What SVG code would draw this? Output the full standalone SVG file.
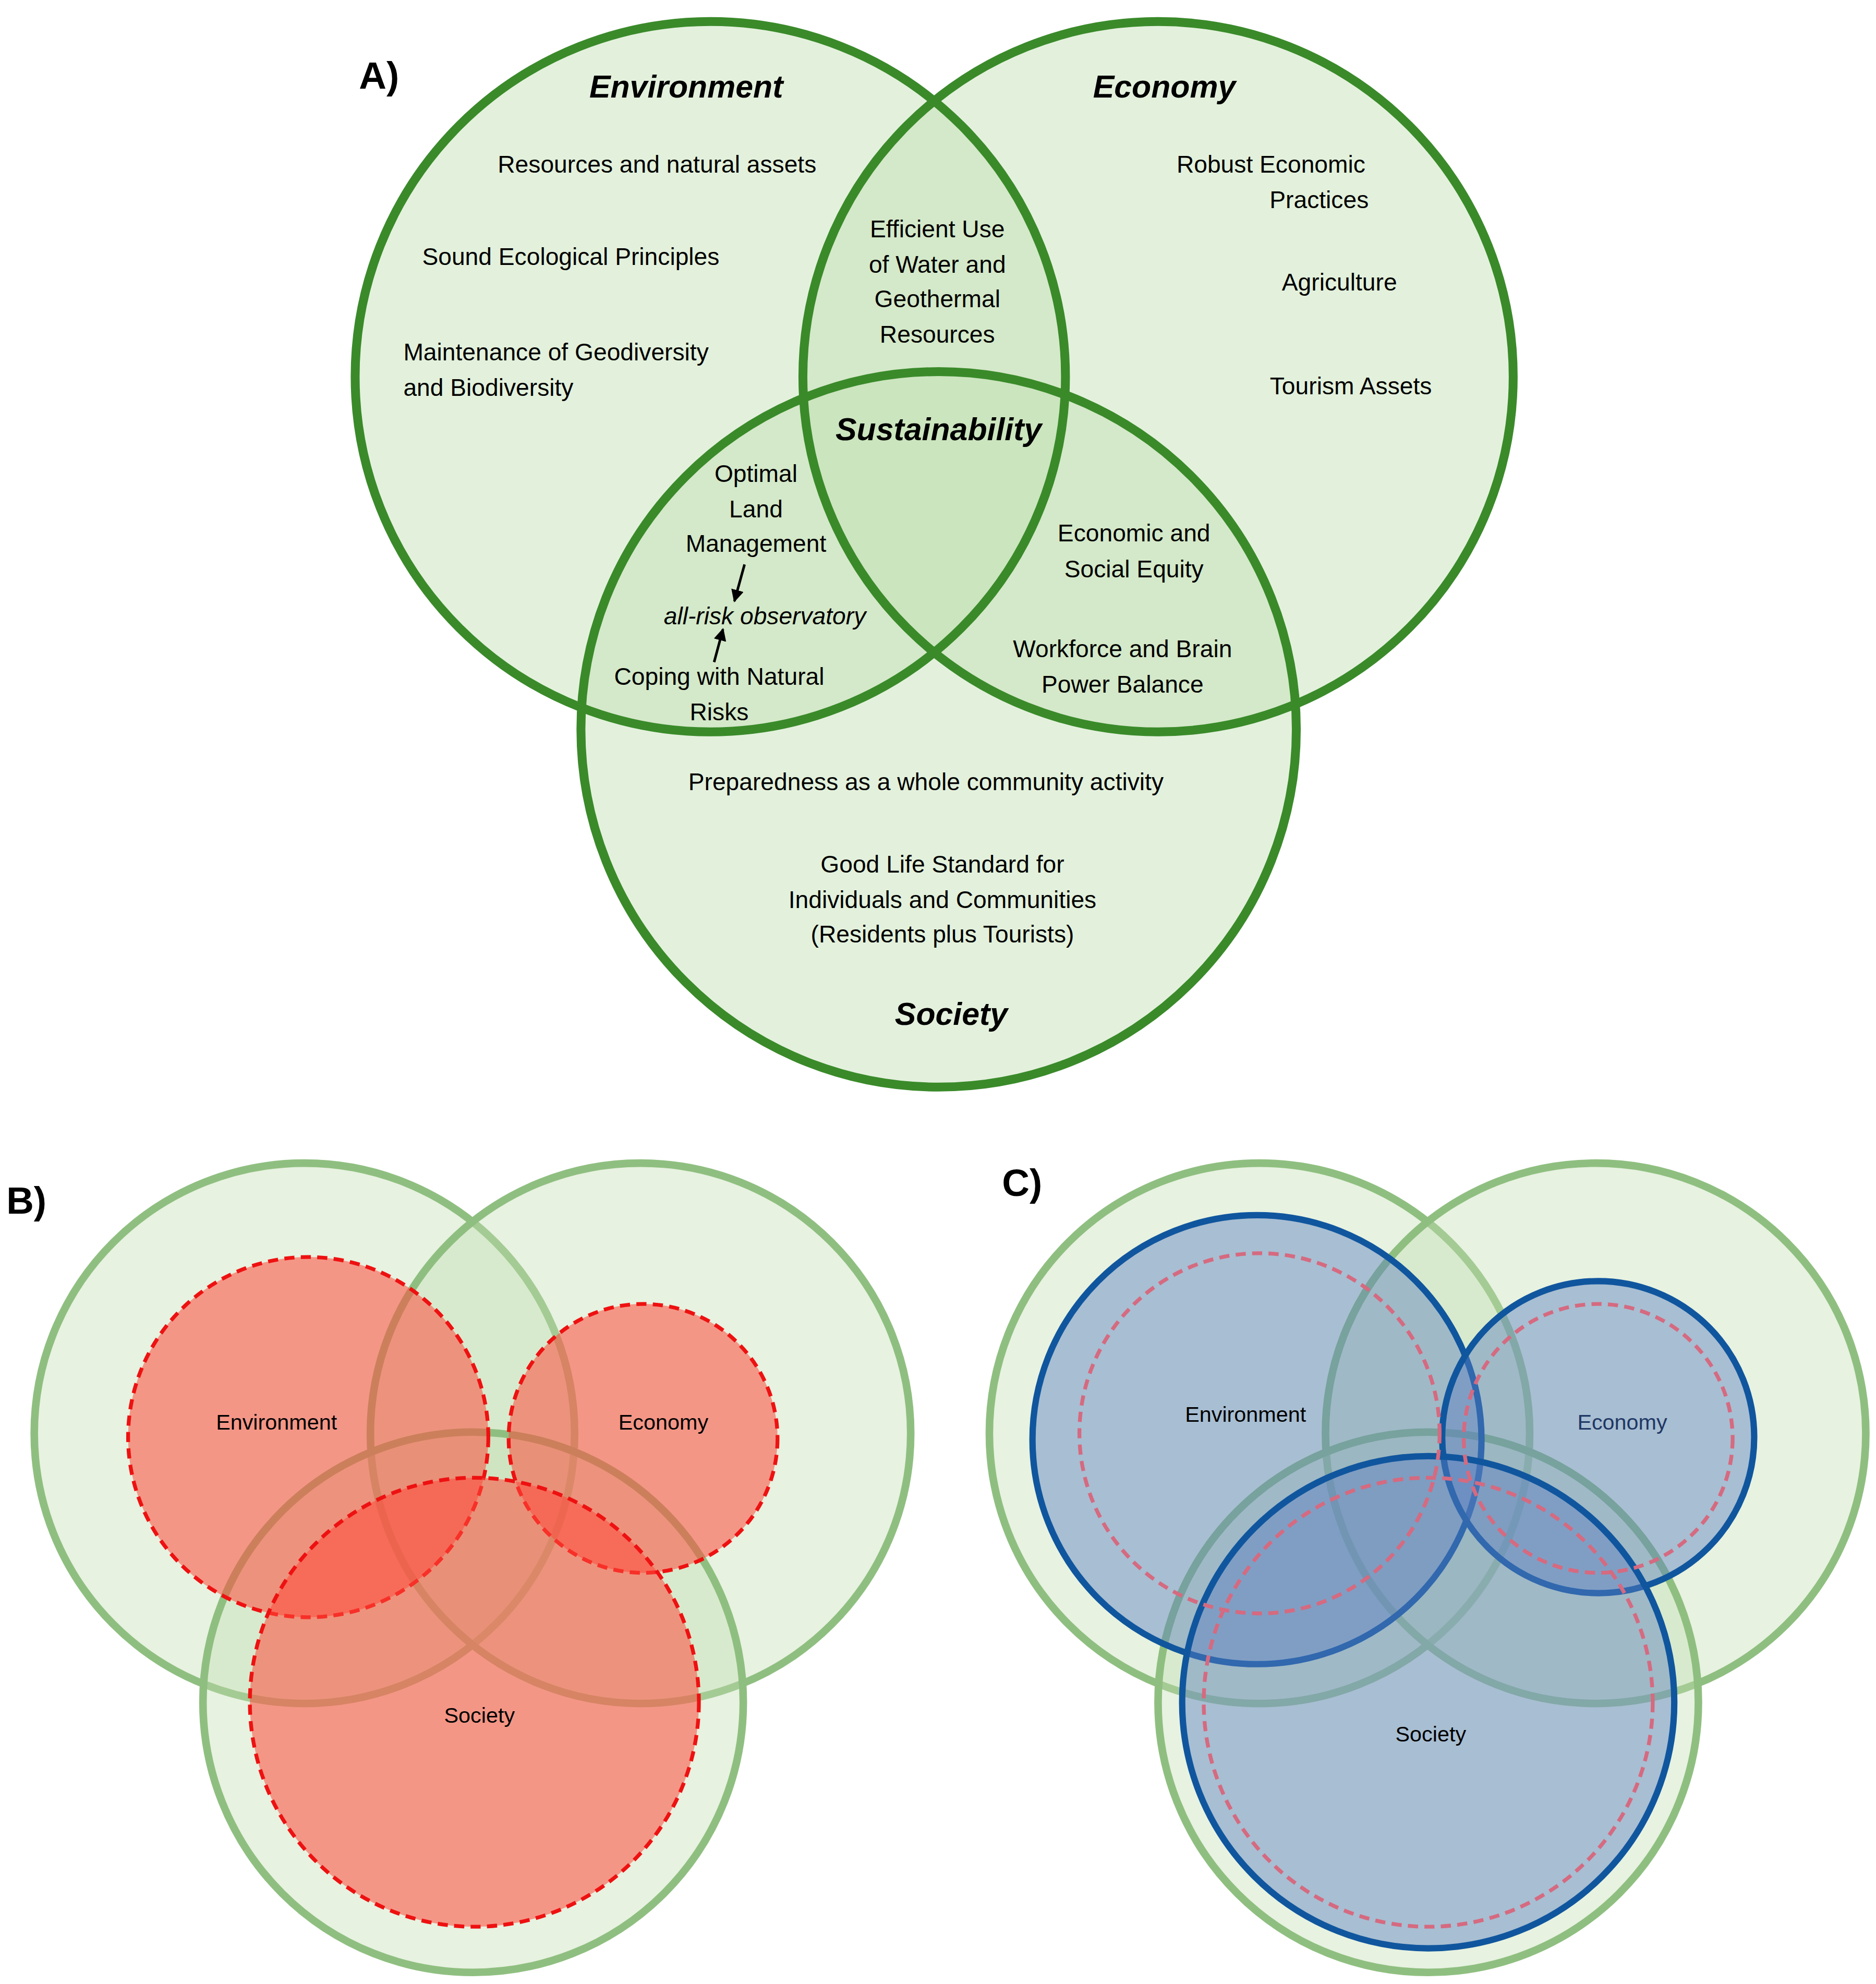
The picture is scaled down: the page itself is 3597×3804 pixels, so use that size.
<svg xmlns="http://www.w3.org/2000/svg" width="3597" height="3804" viewBox="0 0 3597 3804">
<defs>
<style>
.t{font-family:"Liberation Sans",Arial,sans-serif;font-size:19px;fill:#000;text-anchor:middle}
.tl{font-family:"Liberation Sans",Arial,sans-serif;font-size:19px;fill:#000;text-anchor:start}
.ts{font-family:"Liberation Sans",Arial,sans-serif;font-size:17px;fill:#000;text-anchor:middle}
.h{font-family:"Liberation Sans",Arial,sans-serif;font-size:25px;font-weight:bold;font-style:italic;text-anchor:middle}
.lab{font-family:"Liberation Sans",Arial,sans-serif;font-size:30px;font-weight:bold}
.gaf{fill:#c2dfb2;fill-opacity:0.45;stroke:none}
.gas{fill:none;stroke:#3a8a2a;stroke-width:7}
.gb{fill:#c2dfb2;fill-opacity:0.4;stroke:#8fbf80;stroke-width:6}
.rd{fill:#ff4a3c;fill-opacity:0.55;stroke:#ee1111;stroke-width:3;stroke-dasharray:8 5}
.rdc{fill:none;stroke:#d56a80;stroke-width:3;stroke-dasharray:8 5}
.bl{fill:#5a7fc0;fill-opacity:0.45;stroke:#10569e;stroke-width:5}
</style>
<marker id="ar" viewBox="0 0 10 10" refX="9" refY="5" markerWidth="5" markerHeight="5" orient="auto"><path d="M0,0L10,5L0,10z" fill="#000"/></marker>
</defs>
<rect width="3597" height="3804" fill="#fff"/>
<g transform="scale(2.432)">
<text class="lab" x="283" y="70">A)</text>
<text class="lab" x="5" y="957">B)</text>
<text class="lab" x="790" y="943">C)</text>
<g id="panelA">
<circle class="gaf" cx="560" cy="297" r="280"/>
<circle class="gaf" cx="913" cy="297" r="280"/>
<circle class="gaf" cx="740" cy="575" r="282"/>
<circle id="envA" class="gas" cx="560" cy="297" r="280"/>
<circle id="ecoA" class="gas" cx="913" cy="297" r="280"/>
<circle id="socA" class="gas" cx="740" cy="575" r="282"/>
</g>
<g id="textsA">
<text class="h" x="541" y="77">Environment</text>
<text class="h" x="918" y="77">Economy</text>
<text class="h" x="740" y="347">Sustainability</text>
<text class="h" x="750" y="808">Society</text>
<text class="t" x="518" y="136">Resources and natural assets</text>
<text class="t" x="450" y="209">Sound Ecological Principles</text>
<text class="tl" x="318" y="284">Maintenance of Geodiversity</text>
<text class="tl" x="318" y="312">and Biodiversity</text>
<text class="t" x="739" y="187">Efficient Use</text>
<text class="t" x="739" y="215">of Water and</text>
<text class="t" x="739" y="242">Geothermal</text>
<text class="t" x="739" y="270">Resources</text>
<text class="t" x="1002" y="136">Robust Economic</text>
<text class="t" x="1040" y="164">Practices</text>
<text class="t" x="1056" y="229">Agriculture</text>
<text class="t" x="1065" y="311">Tourism Assets</text>
<text class="t" x="596" y="380">Optimal</text>
<text class="t" x="596" y="408">Land</text>
<text class="t" x="596" y="435">Management</text>
<text class="t" x="603" y="492" font-style="italic">all-risk observatory</text>
<text class="t" x="567" y="540">Coping with Natural</text>
<text class="t" x="567" y="568">Risks</text>
<text class="t" x="894" y="427">Economic and</text>
<text class="t" x="894" y="455">Social Equity</text>
<text class="t" x="885" y="518">Workforce and Brain</text>
<text class="t" x="885" y="546">Power Balance</text>
<text class="t" x="730" y="623">Preparedness as a whole community activity</text>
<text class="t" x="743" y="688">Good Life Standard for</text>
<text class="t" x="743" y="716">Individuals and Communities</text>
<text class="t" x="743" y="743">(Residents plus Tourists)</text>
</g>
<g id="connectors" stroke="#000" stroke-width="2" fill="none">
<line x1="587" y1="445" x2="579" y2="474" marker-end="url(#ar)"/>
<line x1="563" y1="522" x2="570" y2="496" marker-end="url(#ar)"/>
</g>
<g id="panelB">
<circle class="gb" cx="240" cy="1130" r="213"/>
<circle class="gb" cx="505" cy="1130" r="213"/>
<circle class="gb" cx="373" cy="1342" r="213"/>
<circle id="envB" class="rd" cx="243" cy="1133" r="142"/>
<circle id="ecoB" class="rd" cx="507" cy="1134" r="106"/>
<circle id="socB" class="rd" cx="374" cy="1342" r="177"/>
<text class="ts" x="218" y="1127">Environment</text>
<text class="ts" x="523" y="1127">Economy</text>
<text class="ts" x="378" y="1358">Society</text>
</g>
<g id="panelC">
<circle class="gb" cx="993" cy="1130" r="213"/>
<circle class="gb" cx="1258" cy="1130" r="213"/>
<circle class="gb" cx="1126" cy="1342" r="213"/>
<circle id="envC" class="bl" cx="991" cy="1135" r="177"/>
<circle id="ecoC" class="bl" cx="1260" cy="1133" r="123"/>
<circle id="socC" class="bl" cx="1126" cy="1342" r="194"/>
<circle class="rdc" cx="993" cy="1130" r="142"/>
<circle class="rdc" cx="1260" cy="1134" r="106"/>
<circle class="rdc" cx="1126" cy="1342" r="177"/>
<text class="ts" x="982" y="1121">Environment</text>
<text class="ts" x="1279" y="1127" style="fill:#1f3864">Economy</text>
<text class="ts" x="1128" y="1373">Society</text>
</g>
</g>
</svg>
